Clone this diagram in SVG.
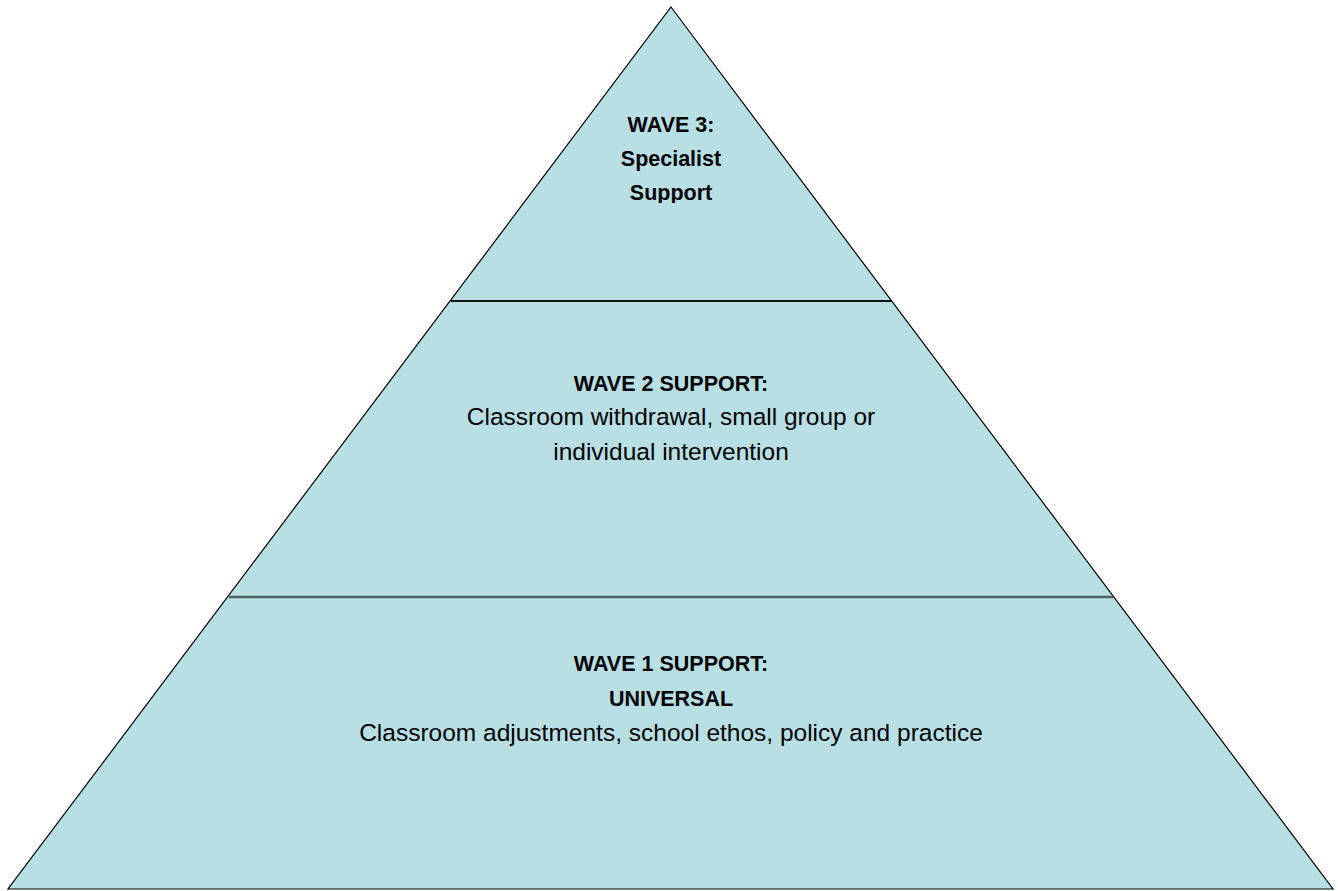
<svg xmlns="http://www.w3.org/2000/svg" width="1338" height="891" viewBox="0 0 1338 891">
  <style>
    .tier { fill: #b8dfe3; stroke: none; }
    .edge { fill: none; stroke: #000; stroke-width: 1.2; }
    .t { font-family: "Liberation Sans", Arial, sans-serif; fill: #000; text-anchor: middle; }
    .b { font-weight: bold; font-size: 21.5px; }
    .r { font-size: 24.5px; }
  </style>
  <defs>
    <clipPath id="clip3"><rect x="560" y="100" width="220" height="103"/></clipPath>
  </defs>
  <rect width="1338" height="891" fill="#fff"/>
  <g id="wave1">
    <polygon class="tier" points="228,597 1114,597 1333,889 8,889"/>
    <text class="t b" x="671" y="671">WAVE 1 SUPPORT:</text>
    <text class="t b" x="671" y="706">UNIVERSAL</text>
    <text class="t r" x="671" y="741">Classroom adjustments, school ethos, policy and practice</text>
  </g>
  <g id="wave2">
    <polygon class="tier" points="450,301 892,301 1114,597 228,597"/>
    <text class="t b" x="671" y="391">WAVE 2 SUPPORT:</text>
    <text class="t r" x="671" y="425">Classroom withdrawal, small group or</text>
    <text class="t r" x="671" y="460">individual intervention</text>
  </g>
  <g id="wave3">
    <polygon class="tier" points="671,7 892,301 450,301"/>
    <g clip-path="url(#clip3)">
      <text class="t b" x="671" y="132">WAVE 3:</text>
      <text class="t b" x="671" y="166">Specialist</text>
      <text class="t b" x="671" y="200">Support</text>
    </g>
  </g>
  <g id="connectors">
    <polygon class="edge" points="671,7 1333,889 8,889"/>
    <line x1="451" y1="301" x2="891" y2="301" stroke="#111" stroke-width="2"/>
    <line x1="229" y1="597" x2="1113" y2="597" stroke="#4f5e60" stroke-width="2.5"/>
  </g>
</svg>
